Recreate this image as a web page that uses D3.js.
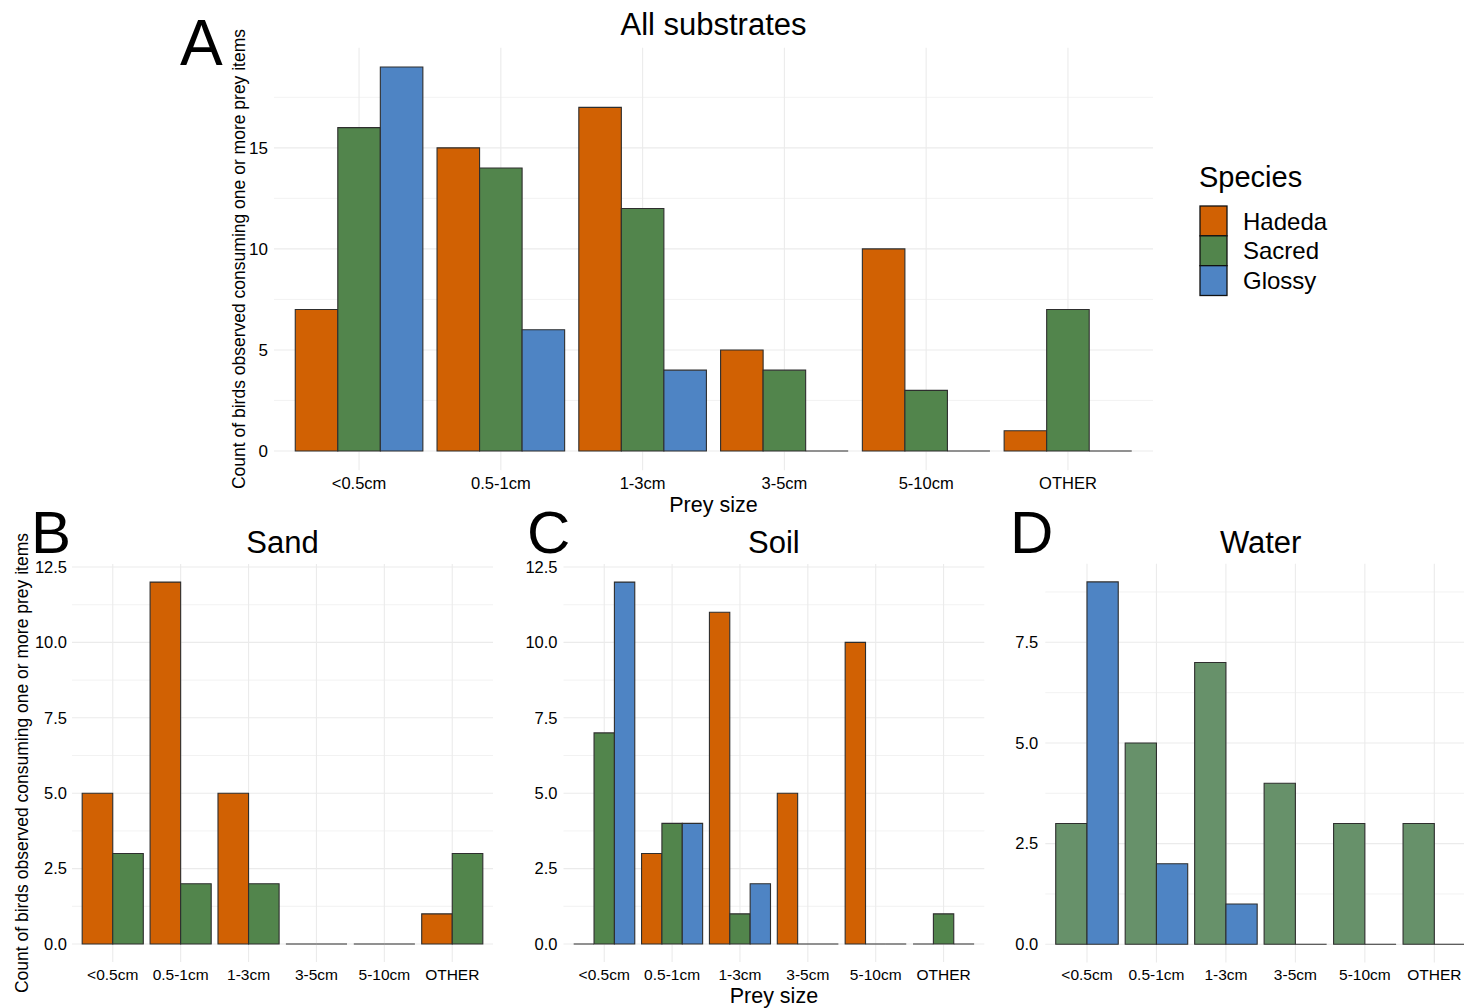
<!DOCTYPE html>
<html><head><meta charset="utf-8">
<script src="https://cdn.jsdelivr.net/npm/d3@7"></script>
<style>
body{margin:0;background:#fff}
svg{display:block}
text{font-family:"Liberation Sans",Arial,Helvetica,sans-serif;fill:#000}
</style>
</head><body>
<svg id="chart" width="1464" height="1008"></svg>
<script>
// ---------------- data ----------------
const preySizes = ["<0.5cm","0.5-1cm","1-3cm","3-5cm","5-10cm","OTHER"];
const species = ["Hadeda","Sacred","Glossy"];
const speciesColors = ["#D16103","#52854C","#4E84C4"];
const waterSacredColor = "#67916A";

// All substrates
const allHadeda = [7,15,17,5,10,1];
const allSacred = [16,14,12,4,3,7];
const allGlossy = [19,6,4,0,0,0];
// Sand
const sandHadeda = [5,12,5,0,0,1];
const sandSacred = [3,2,2,0,0,3];
// Soil
const soilHadeda = [0,3,11,5,10,0];
const soilSacred = [7,4,1,0,0,1];
const soilGlossy = [12,4,2,0,0,0];
// Water
const waterSacred = [3,5,7,4,3,3];
const waterGlossy = [9,2,1,0,0,0];

const ticksAll = [0,5,10,15];
const tickLabelsAll = ["0","5","10","15"];
const ticksSandSoil = [0,2.5,5,7.5,10,12.5];
const tickLabelsSandSoil = ["0.0","2.5","5.0","7.5","10.0","12.5"];
const ticksWater = [0,2.5,5,7.5];
const tickLabelsWater = ["0.0","2.5","5.0","7.5"];

const yTitle = "Count of birds observed consuming one or more prey items";
const xTitle = "Prey size";

// ---------------- drawing ----------------
const svg = d3.select("#chart");
svg.append("rect").attr("width",1464).attr("height",1008).attr("fill","#fff");
const color = d3.scaleOrdinal().domain(species).range(speciesColors);

function panel(cfg){
  const g = svg.append("g");
  const {l,r,t,b} = cfg.box;
  const ymax = d3.max(cfg.series, s => d3.max(s.values));
  const y = d3.scaleLinear().domain([-0.05*ymax, 1.05*ymax]).range([b,t]);
  const x = d3.scaleBand().domain(preySizes).range([l,r]).paddingInner(0.1).paddingOuter(0.15);
  const xs = d3.scaleBand().domain(cfg.series.map(s=>s.name)).range([0,x.bandwidth()]).padding(0);

  // minor gridlines
  const step = cfg.ticks[1]-cfg.ticks[0];
  const minors = cfg.ticks.map(v=>v+step/2).filter(v=>v<=y.domain()[1]);
  g.selectAll(".minor").data(minors).join("line")
    .attr("x1",l).attr("x2",r).attr("y1",d=>y(d)).attr("y2",d=>y(d))
    .attr("stroke","#f0f0f0").attr("stroke-width",0.9);
  // major horizontal
  g.selectAll(".majorh").data(cfg.ticks).join("line")
    .attr("x1",l).attr("x2",r).attr("y1",d=>y(d)).attr("y2",d=>y(d))
    .attr("stroke","#ebebeb").attr("stroke-width",1.1);
  // major vertical
  g.selectAll(".majorv").data(preySizes).join("line")
    .attr("x1",d=>x(d)+x.bandwidth()/2).attr("x2",d=>x(d)+x.bandwidth()/2)
    .attr("y1",t).attr("y2",b)
    .attr("stroke","#ebebeb").attr("stroke-width",1.1);

  // bars
  const bars = [];
  cfg.series.forEach(s => s.values.forEach((v,i) => bars.push({cat:preySizes[i], name:s.name, v, fill:s.color})));
  g.selectAll(".bar").data(bars).join("path")
    .attr("d", d => {
      const x0 = x(d.cat)+xs(d.name), w = xs.bandwidth();
      const y0 = y(0), y1 = y(d.v);
      return `M${x0},${y0}V${y1}H${x0+w}V${y0}Z`;
    })
    .attr("fill", d=>d.fill)
    .attr("stroke","#2e2e2e").attr("stroke-width",1.1);

  // axes
  const ya = d3.axisLeft(y).tickValues(cfg.ticks).tickFormat((d,i)=>cfg.tickLabels[i]).tickSize(0).tickPadding(cfg.yPad);
  const yg = g.append("g").attr("transform",`translate(${l},0)`).call(ya);
  yg.select(".domain").remove();
  yg.selectAll("text").style("font-size",cfg.yFont+"px").attr("fill","#000")
    .attr("font-family",'"Liberation Sans",Arial,sans-serif');
  const xa = d3.axisBottom(x).tickSize(0).tickPadding(cfg.xPad);
  const xg = g.append("g").attr("transform",`translate(0,${b})`).call(xa);
  xg.select(".domain").remove();
  xg.selectAll("text").style("font-size",cfg.xFont+"px").attr("fill","#000")
    .attr("font-family",'"Liberation Sans",Arial,sans-serif');

  // title
  g.append("text").attr("x",(l+r)/2).attr("y",cfg.titleY).attr("text-anchor","middle")
    .style("font-size","31px").text(cfg.title);
  // letter
  g.append("text").attr("x",cfg.letterX).attr("y",cfg.letterY)
    .style("font-size",cfg.letterFont+"px").text(cfg.letter);
  if(cfg.showYTitle){
    g.append("text").attr("transform",`translate(${cfg.yTitleX},${(t+b)/2}) rotate(-90)`)
      .attr("text-anchor","middle").style("font-size","17.5px").text(yTitle);
  }
  if(cfg.showXTitle){
    g.append("text").attr("x",(l+r)/2).attr("y",cfg.xTitleY).attr("text-anchor","middle")
      .style("font-size","21.5px").text(xTitle);
  }
}

panel({
  title:"All substrates", letter:"A", letterX:180, letterY:65, letterFont:64, titleY:35,
  box:{l:274,r:1153,t:47.8,b:470.2},
  series:[{name:"Hadeda",values:allHadeda,color:color("Hadeda")},
          {name:"Sacred",values:allSacred,color:color("Sacred")},
          {name:"Glossy",values:allGlossy,color:color("Glossy")}],
  ticks:ticksAll, tickLabels:tickLabelsAll, yPad:6, xPad:7, yFont:17, xFont:16.5,
  showYTitle:true, yTitleX:245, showXTitle:true, xTitleY:512
});
panel({
  title:"Sand", letter:"B", letterX:31, letterY:553, letterFont:60, titleY:553,
  box:{l:72,r:493,t:564,b:962.1},
  series:[{name:"Hadeda",values:sandHadeda,color:color("Hadeda")},
          {name:"Sacred",values:sandSacred,color:color("Sacred")}],
  ticks:ticksSandSoil, tickLabels:tickLabelsSandSoil, yPad:5, xPad:7, yFont:16.5, xFont:15.5,
  showYTitle:true, yTitleX:28, showXTitle:false
});
panel({
  title:"Soil", letter:"C", letterX:527, letterY:553, letterFont:60, titleY:553,
  box:{l:563.5,r:984.3,t:564,b:962.1},
  series:[{name:"Hadeda",values:soilHadeda,color:color("Hadeda")},
          {name:"Sacred",values:soilSacred,color:color("Sacred")},
          {name:"Glossy",values:soilGlossy,color:color("Glossy")}],
  ticks:ticksSandSoil, tickLabels:tickLabelsSandSoil, yPad:6, xPad:7, yFont:16.5, xFont:15.5,
  showYTitle:false, showXTitle:true, xTitleY:1003
});
panel({
  title:"Water", letter:"D", letterX:1010, letterY:553, letterFont:60, titleY:553,
  box:{l:1045.3,r:1476,t:563.8,b:962.4},
  series:[{name:"Sacred",values:waterSacred,color:waterSacredColor},
          {name:"Glossy",values:waterGlossy,color:color("Glossy")}],
  ticks:ticksWater, tickLabels:tickLabelsWater, yPad:7, xPad:7, yFont:16.5, xFont:15.5,
  showYTitle:false, showXTitle:false
});

// legend
const lg = svg.append("g");
lg.append("text").attr("x",1199).attr("y",187).style("font-size","29px").text("Species");
const ly = d3.scaleBand().domain(species).range([206,295.5]);
lg.selectAll(".key").data(species).join("rect")
  .attr("x",1200).attr("y",d=>ly(d)).attr("width",27).attr("height",ly.bandwidth())
  .attr("fill",d=>color(d)).attr("stroke","#111").attr("stroke-width",1.3);
lg.selectAll(".lab").data(species).join("text")
  .attr("x",1243).attr("y",d=>ly(d)+ly.bandwidth()/2).attr("dy","0.36em")
  .style("font-size","24px").text(d=>d);
</script>
</body></html>
